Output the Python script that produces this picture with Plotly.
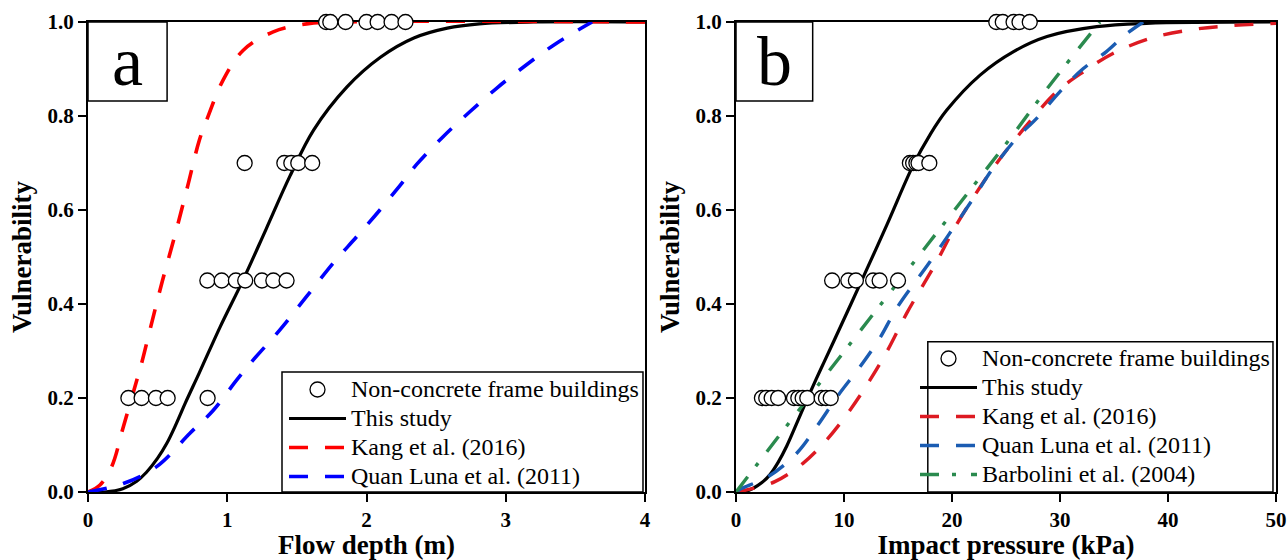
import plotly.graph_objects as go

SERIF = "Liberation Serif"

# ---------------- Panel (a): flow depth ----------------
obs_depth = [1.71, 1.74, 1.85, 2.00, 2.08, 2.18, 2.28,
             1.125, 1.41, 1.46, 1.51, 1.61,
             0.857, 0.96, 1.062, 1.129, 1.249, 1.331, 1.426,
             0.29, 0.385, 0.488, 0.572, 0.859]
obs_depth_vul = [1.0] * 7 + [0.7] * 5 + [0.45] * 7 + [0.2] * 5

study_depth = [0, 0.12, 0.25, 0.35, 0.42, 0.50, 0.565, 0.635, 0.70, 0.80, 0.95, 1.115, 1.28,
               1.45, 1.62, 1.86, 2.10, 2.34, 2.58, 2.81, 3.2, 4.0]
study_depth_vul = [0, 0.0, 0.007, 0.023, 0.042, 0.072, 0.103, 0.146, 0.19, 0.254, 0.352, 0.452,
                   0.56, 0.672, 0.77, 0.862, 0.925, 0.966, 0.987, 0.996, 1.0, 1.0]

kang_depth = [0, 0.086, 0.17, 0.254, 0.337, 0.385, 0.445, 0.535, 0.625, 0.715, 0.80,
              0.852, 0.971, 1.115, 1.33, 1.57, 1.8, 4.0]
kang_depth_vul = [0, 0.015, 0.054, 0.139, 0.224, 0.274, 0.345, 0.45, 0.547, 0.65, 0.749,
                  0.791, 0.877, 0.94, 0.979, 0.996, 1.0, 1.0]

quan_depth = [0, 0.254, 0.493, 0.732, 0.9, 1.067, 1.187, 1.378, 1.57, 1.761, 1.929,
              2.096, 2.24, 2.36, 2.55, 2.742, 2.934, 3.149, 3.365, 3.62]
quan_depth_vul = [0, 0.018, 0.054, 0.125, 0.174, 0.238, 0.281, 0.345, 0.416, 0.487, 0.543,
                  0.60, 0.652, 0.697, 0.756, 0.809, 0.859, 0.909, 0.955, 1.0]

# ---------------- Panel (b): impact pressure ----------------
obs_press = [24.1, 24.7, 25.7, 26.25, 27.2,
             16.1, 16.4, 16.7, 16.9, 17.9,
             8.9, 10.4, 11.1, 12.7, 13.3, 15.0,
             2.4, 2.8, 3.3, 3.9, 5.37, 5.77, 6.17, 6.6, 7.93, 8.33, 8.77]
obs_press_vul = [1.0] * 5 + [0.7] * 5 + [0.45] * 6 + [0.2] * 11

study_press = [0, 1.0, 1.6, 2.4, 3.15, 3.9, 4.7, 5.6, 6.6, 7.78, 9.0, 11.6, 14.0, 16.42,
               17.96, 19.5, 22.6, 25.7, 28.8, 33.4, 38.0, 50]
study_press_vul = [0, 0.002, 0.008, 0.02, 0.037, 0.063, 0.098, 0.145, 0.198, 0.258, 0.318, 0.448,
                   0.57, 0.696, 0.76, 0.812, 0.887, 0.937, 0.969, 0.99, 0.997, 1.0]

kang_press = [0, 1.3, 3.6, 6.2, 8.4, 10.55, 12.4, 14.0, 15.8, 18.58, 20.4, 23.8,
              27.2, 29.7, 32.16, 34.9, 38.3, 42.0, 45.7, 50]
kang_press_vul = [0, 0.006, 0.022, 0.061, 0.111, 0.174, 0.238, 0.30, 0.38, 0.49, 0.568, 0.689,
                  0.788, 0.852, 0.894, 0.933, 0.965, 0.983, 0.992, 0.997]

quan_press = [0, 0.37, 3.0, 5.6, 7.47, 9.47, 11.5, 13.3, 14.88, 17.96, 20.1, 21.98,
              23.8, 25.99, 27.84, 30.0, 32.16, 34.3, 36.0, 37.7]
quan_press_vul = [0, 0.006, 0.033, 0.082, 0.139, 0.206, 0.267, 0.327, 0.391, 0.49, 0.561, 0.625,
                  0.689, 0.753, 0.795, 0.852, 0.901, 0.937, 0.972, 1.0]

barb_press = [0, 2.5, 10.25, 17.96, 25.37, 29.07, 33.7]
barb_press_vul = [0, 0.075, 0.306, 0.533, 0.752, 0.866, 1.0]

fig = go.Figure()


def label(text):
    # legend entry text is set a little larger than the row pitch implies
    return f'<span style="font-size:24px">{text}</span>'


def curve(x, y, name, color, dash, xa, ya, legend, rank, width=3.2):
    fig.add_trace(go.Scatter(
        x=x, y=y, mode="lines", name=label(name),
        line=dict(color=color, width=width, dash=dash, shape="spline", smoothing=1.0),
        xaxis=xa, yaxis=ya, legend=legend, legendrank=rank, cliponaxis=False,
    ))


def points(x, y, xa, ya, legend):
    fig.add_trace(go.Scatter(
        x=x, y=y, mode="markers", name=label("Non-concrete frame buildings"),
        marker=dict(symbol="circle", size=15, color="white",
                    line=dict(color="black", width=1.3)),
        xaxis=xa, yaxis=ya, legend=legend, legendrank=1, cliponaxis=False,
    ))


DASH = "19px,17px"

# panel a
curve(study_depth, study_depth_vul, "This study", "black", "solid", "x", "y", "legend", 2, 3.2)
curve(kang_depth, kang_depth_vul, "Kang et al. (2016)", "#FF0000", DASH, "x", "y", "legend", 3, 3.6)
curve(quan_depth, quan_depth_vul, "Quan Luna et al. (2011)", "#0000FF", DASH, "x", "y", "legend", 4, 3.6)
points(obs_depth, obs_depth_vul, "x", "y", "legend")

# panel b
curve(study_press, study_press_vul, "This study", "black", "solid", "x2", "y2", "legend2", 2, 3.2)
curve(kang_press, kang_press_vul, "Kang et al. (2016)", "#DD1A22", DASH, "x2", "y2", "legend2", 3, 3.4)
curve(quan_press, quan_press_vul, "Quan Luna et al. (2011)", "#1B5CB2", DASH, "x2", "y2", "legend2", 4, 3.4)
curve(barb_press, barb_press_vul, "Barbolini et al. (2004)", "#2A8A4E", "19px,13px,4px,15px",
      "x2", "y2", "legend2", 5, 3.4)
points(obs_press, obs_press_vul, "x2", "y2", "legend2")

W, H = 1287, 560
ydom = [(H - 492) / H, (H - 22) / H]
tickfont = dict(family=SERIF, size=21, color="black", weight="bold")
titlefont = dict(family=SERIF, size=27, color="black", weight="bold")


def xaxis(dom, rng, dtick, title):
    return dict(domain=dom, range=rng, dtick=dtick, tick0=0, showgrid=False, zeroline=False,
                showline=True, linecolor="black", linewidth=2, mirror=True,
                ticks="outside", ticklen=8, tickwidth=2, tickcolor="black",
                tickfont=tickfont, layer="below traces", automargin=False,
                title=dict(text=title, font=titlefont, standoff=4))


def yaxis(anchor, title):
    return dict(domain=ydom, range=[0, 1], dtick=0.2, tick0=0, tickformat=".1f",
                showgrid=False, zeroline=False, anchor=anchor,
                showline=True, linecolor="black", linewidth=2, mirror=True,
                ticks="outside", ticklen=8, tickwidth=2, tickcolor="black",
                tickfont=tickfont, layer="below traces", automargin=False,
                title=dict(text=title, font=titlefont, standoff=8))


# legend entries float on a framed box drawn as a shape below them
legend_style = dict(font=dict(family=SERIF, size=20, color="black"),
                    bgcolor="rgba(0,0,0,0)", borderwidth=0,
                    xanchor="right", yanchor="bottom",
                    itemwidth=57, tracegroupgap=0)

fig.update_layout(
    width=W, height=H,
    margin=dict(l=0, r=0, t=0, b=0),
    paper_bgcolor="white", plot_bgcolor="white",
    xaxis=xaxis([88 / W, 645 / W], [0, 4], 1, "Flow depth (m)"),
    yaxis=yaxis("x", "Vulnerability"),
    xaxis2=xaxis([736 / W, 1276 / W], [0, 50], 10, "Impact pressure (kPa)") | dict(anchor="y2"),
    yaxis2=yaxis("x2", "Vulnerability"),
    legend=legend_style | dict(x=644 / W, y=ydom[0] - 4 / H),
    legend2=legend_style | dict(x=1275 / W, y=ydom[0] - 2 / H),
    showlegend=True,
)

# legend frames
for xref, yref, x0, x1, y1 in [("x domain", "y domain", 0.3483, 0.9964, 0.2553),
                               ("x2 domain", "y2 domain", 0.3552, 0.9944, 0.3198)]:
    fig.add_shape(type="rect", xref=xref, yref=yref, x0=x0, x1=x1, y0=0, y1=y1,
                  line=dict(color="black", width=1.5), fillcolor="white", layer="above")

# panel tags
for xref, yref, tag in [("x domain", "y domain", "a"), ("x2 domain", "y2 domain", "b")]:
    fig.add_shape(type="rect", xref=xref, yref=yref, x0=0, x1=0.142, y0=0.832, y1=1.0,
                  line=dict(color="black", width=1.5), fillcolor="white", layer="above")
    fig.add_annotation(xref=xref, yref=yref, x=0.071, y=0.916, text=tag, showarrow=False,
                       font=dict(family=SERIF, size=70, color="black"),
                       xanchor="center", yanchor="middle")

fig.write_html("out.html")
